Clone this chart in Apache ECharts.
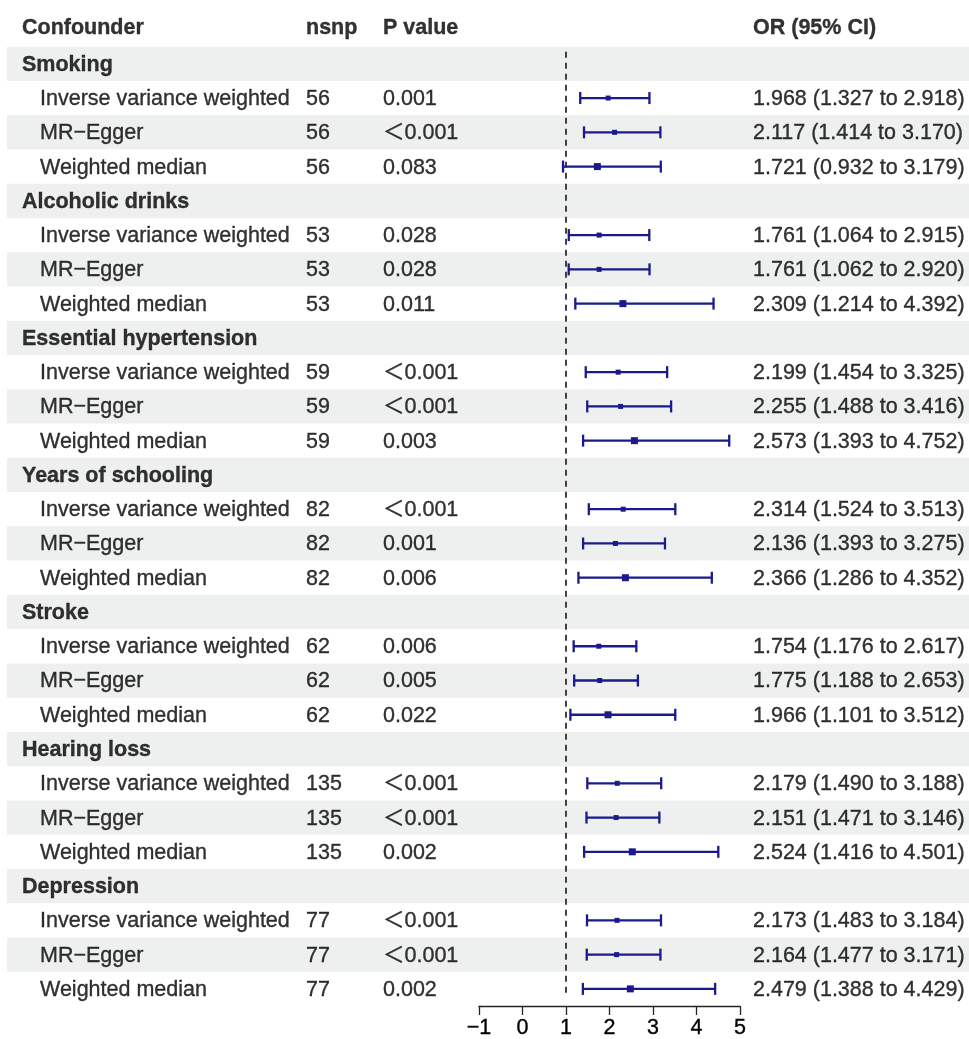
<!DOCTYPE html>
<html>
<head>
<meta charset="utf-8">
<script src="https://cdn.jsdelivr.net/npm/echarts@6/dist/echarts.min.js"></script>
<style>
  html, body { margin: 0; padding: 0; background: #fff; }
  #main { width: 969px; height: 1039px; }
</style>
</head>
<body>
<div id="main"></div>
<script>
// confounders and MR methods
const groups = ['Smoking', 'Alcoholic drinks', 'Essential hypertension', 'Years of schooling',
  'Stroke', 'Hearing loss', 'Depression'];
const methods = ['Inverse variance weighted', 'MR−Egger', 'Weighted median'];
const nsnp = [56, 53, 59, 82, 62, 135, 77];

// one entry per (group, method), in table order
const pValues = [
  '0.001', '＜0.001', '0.083',
  '0.028', '0.028', '0.011',
  '＜0.001', '＜0.001', '0.003',
  '＜0.001', '0.001', '0.006',
  '0.006', '0.005', '0.022',
  '＜0.001', '＜0.001', '0.002',
  '＜0.001', '＜0.001', '0.002'
];
const orEst = [1.968, 2.117, 1.721, 1.761, 1.761, 2.309, 2.199, 2.255, 2.573,
  2.314, 2.136, 2.366, 1.754, 1.775, 1.966, 2.179, 2.151, 2.524, 2.173, 2.164, 2.479];
const ciLow = [1.327, 1.414, 0.932, 1.064, 1.062, 1.214, 1.454, 1.488, 1.393,
  1.524, 1.393, 1.286, 1.176, 1.188, 1.101, 1.490, 1.471, 1.416, 1.483, 1.477, 1.388];
const ciHigh = [2.918, 3.170, 3.179, 2.915, 2.920, 4.392, 3.325, 3.416, 4.752,
  3.513, 3.275, 4.352, 2.617, 2.653, 3.512, 3.188, 3.146, 4.501, 3.184, 3.171, 4.429];

const xTicks = [-1, 0, 1, 2, 3, 4, 5];
const nullLine = 1;

// ---- layout / style ----
const FONT = '"Liberation Sans", Arial, "Noto Sans CJK SC", sans-serif';
const FS = 21.5;
const TXT = '#000';
const NAVY = '#1a1a8c';
const BAND = '#edf0ee';
const colX = { group: 22, method: 40, nsnp: 306, p: 383, or: 753 };
const methodBox = [5, 5, 7];
const gridTop = 12.4, gridBottom = 33;

const fmt = v => v.toFixed(3);

// build table rows
const textPts = [];
const forest = [];
const bands = [];
let row = 0;
function txt(x, y, s, bold) {
  textPts.push({ value: [x, y], label: { formatter: s, fontWeight: bold ? 'bold' : 'normal' } });
}
txt(colX.group, -1.05, 'Confounder', true);
txt(colX.nsnp, -1.05, 'nsnp', true);
txt(colX.p, -1.05, 'P value', true);
txt(colX.or, -1.05, 'OR (95% CI)', true);

groups.forEach((g, gi) => {
  if (row % 2 === 0) bands.push(row);
  txt(colX.group, row + 0.03, g, true);
  row++;
  methods.forEach((m, mi) => {
    const k = gi * 3 + mi;
    if (row % 2 === 0) bands.push(row);
    txt(colX.method, row + 0.03, m, false);
    txt(colX.nsnp, row + 0.03, String(nsnp[gi]), false);
    txt(colX.p, row + 0.03, pValues[k], false);
    txt(colX.or, row + 0.03, fmt(orEst[k]) + ' (' + fmt(ciLow[k]) + ' to ' + fmt(ciHigh[k]) + ')', false);
    forest.push([row, ciLow[k], ciHigh[k], orEst[k], methodBox[mi]]);
    row++;
  });
});
const nRows = row;

const chart = echarts.init(document.getElementById('main'));
chart.setOption({
  animation: false,
  backgroundColor: '#fff',
  textStyle: { fontFamily: FONT },
  grid: [
    { left: 0, right: 0, top: gridTop, bottom: gridBottom },
    { left: 479, right: 229, top: gridTop, bottom: gridBottom }
  ],
  xAxis: [
    { gridIndex: 0, type: 'value', min: 0, max: 969, show: false },
    {
      gridIndex: 1, type: 'value', min: xTicks[0], max: xTicks[xTicks.length - 1], interval: 1,
      position: 'bottom',
      axisLine: { show: true, onZero: false, lineStyle: { color: '#222', width: 1.3 } },
      axisTick: { show: true, length: 9, lineStyle: { color: '#222', width: 1.3 } },
      axisLabel: {
        color: TXT, fontSize: FS, fontFamily: FONT, margin: 11,
        textBorderColor: TXT, textBorderWidth: 0.35,
        formatter: v => String(v).replace('-', '−')
      },
      splitLine: { show: false }
    }
  ],
  yAxis: [
    { gridIndex: 0, type: 'value', min: -1.5, max: nRows - 0.5, inverse: true, show: false },
    { gridIndex: 1, type: 'value', min: -1.5, max: nRows - 0.5, inverse: true, show: false }
  ],
  series: [
    {
      type: 'scatter', xAxisIndex: 0, yAxisIndex: 0, symbolSize: 0, silent: true, clip: false,
      data: textPts,
      label: {
        show: true, position: 'right', distance: 0, color: TXT, fontSize: FS, fontFamily: FONT,
        textBorderColor: TXT, textBorderWidth: 0.35
      },
      emphasis: { disabled: true },
      markArea: {
        silent: true,
        itemStyle: { color: BAND },
        data: bands.map(r => [{ coord: [7, r - 0.5] }, { coord: [969, r + 0.5] }])
      },
      z: 1
    },
    {
      type: 'line', xAxisIndex: 1, yAxisIndex: 1, symbol: 'none', silent: true,
      data: [[nullLine, -0.35], [nullLine, nRows - 0.8]],
      lineStyle: { color: '#222', width: 1.7, type: [6, 5] },
      z: 3
    },
    {
      type: 'custom', xAxisIndex: 1, yAxisIndex: 1, silent: true,
      data: forest,
      renderItem: function (params, api) {
        const r = api.value(0);
        const a = api.coord([api.value(1), r]);
        const b = api.coord([api.value(2), r]);
        const c = api.coord([api.value(3), r]);
        const s = api.value(4);
        const cap = 6;
        const ls = { stroke: NAVY, lineWidth: 2.3 };
        return {
          type: 'group',
          children: [
            { type: 'line', shape: { x1: a[0], y1: a[1], x2: b[0], y2: b[1] }, style: ls },
            { type: 'line', shape: { x1: a[0], y1: a[1] - cap, x2: a[0], y2: a[1] + cap }, style: ls },
            { type: 'line', shape: { x1: b[0], y1: b[1] - cap, x2: b[0], y2: b[1] + cap }, style: ls },
            { type: 'rect', shape: { x: c[0] - s / 2, y: c[1] - s / 2, width: s, height: s },
              style: { fill: NAVY } }
          ]
        };
      },
      z: 4
    }
  ]
});
</script>
</body>
</html>
